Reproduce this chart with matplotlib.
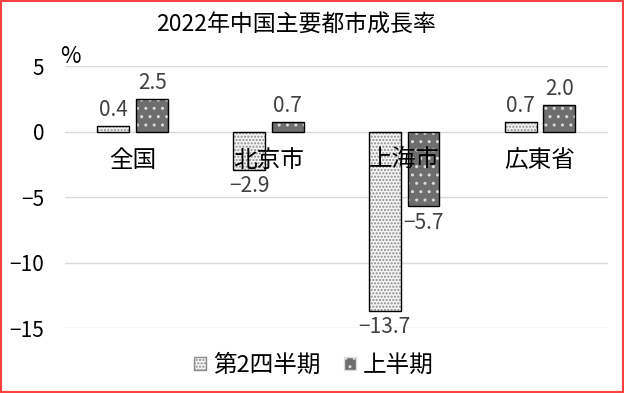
import numpy as np
import matplotlib.pyplot as plt
from matplotlib.patches import Patch

plt.rcParams['font.family'] = ['Noto Sans CJK JP', 'DejaVu Sans']

# データ
regions = ['全国', '北京市', '上海市', '広東省']
q2 = [0.4, -2.9, -13.7, 0.7]
h1 = [2.5, 0.7, -5.7, 2.0]
series_names = ['第2四半期', '上半期']

fig = plt.figure(figsize=(6.24, 3.93), dpi=100)
ax = fig.add_axes([0.104, 0.165, 0.87, 0.667])

x = np.arange(len(regions))
w = 0.235
gap = 0.05

# 塗り + ハッチ、その上に黒い枠線
ax.bar(x - w / 2 - gap / 2, q2, w, color='#f4f4f4', edgecolor='#8a8a8a',
       hatch='.....', linewidth=0, zorder=2)
ax.bar(x - w / 2 - gap / 2, q2, w, color='none', edgecolor='black',
       linewidth=1, zorder=3)
ax.bar(x + w / 2 + gap / 2, h1, w, color='#6e6e6e', edgecolor='#dcdcdc',
       hatch='..', linewidth=0, zorder=2)
ax.bar(x + w / 2 + gap / 2, h1, w, color='none', edgecolor='black',
       linewidth=1, zorder=3)

# 値ラベル
for i in range(len(regions)):
    for xv, v in [(x[i] - w / 2 - gap / 2, q2[i]), (x[i] + w / 2 + gap / 2, h1[i])]:
        txt = f'{v:.1f}'.replace('-', '\u2212')
        if v >= 0:
            ax.text(xv, v + 0.4, txt, ha='center', va='bottom', fontsize=15,
                    color='#404040', zorder=5)
        else:
            ax.text(xv, v - 0.4, txt, ha='center', va='top', fontsize=15,
                    color='#404040', zorder=5)

# カテゴリラベル（ゼロ線の下）
for i, name in enumerate(regions):
    ax.text(x[i], -2.2, name, ha='center', va='center', fontsize=17,
            color='black', zorder=6)

ax.set_xlim(-0.5, len(regions) - 0.5)
ax.set_ylim(-15, 5)
ax.set_yticks([5, 0, -5, -10, -15])
ax.set_yticklabels(['5', '0', '\u22125', '\u221210', '\u221215'], fontsize=15)
ax.set_xticks([])
ax.tick_params(axis='y', length=0, pad=15)
ax.yaxis.grid(True, color='#d9d9d9', linewidth=1, zorder=0)
ax.set_axisbelow(True)
for s in ax.spines.values():
    s.set_visible(False)

fig.text(0.113, 0.855, '%', fontsize=16, ha='center', va='center')
fig.text(0.475, 0.937, '2022年中国主要都市成長率', fontsize=16.5, ha='center', va='center')

# 凡例
handles = [Patch(facecolor='#f4f4f4', edgecolor='#8a8a8a', hatch='.....'),
           Patch(facecolor='#6e6e6e', edgecolor='#dcdcdc', hatch='..')]
fig.legend(handles, series_names, loc='center', bbox_to_anchor=(0.503, 0.07),
           ncol=2, frameon=False, fontsize=17, handlelength=0.5, handleheight=0.5,
           handletextpad=0.3, columnspacing=1.0)

# 外枠
fig.patches.append(plt.Rectangle((0.002, 0.002), 0.996, 0.996, transform=fig.transFigure,
                                 fill=False, edgecolor='#ff4040', linewidth=1.5))

fig.savefig('out.png', dpi=100)
